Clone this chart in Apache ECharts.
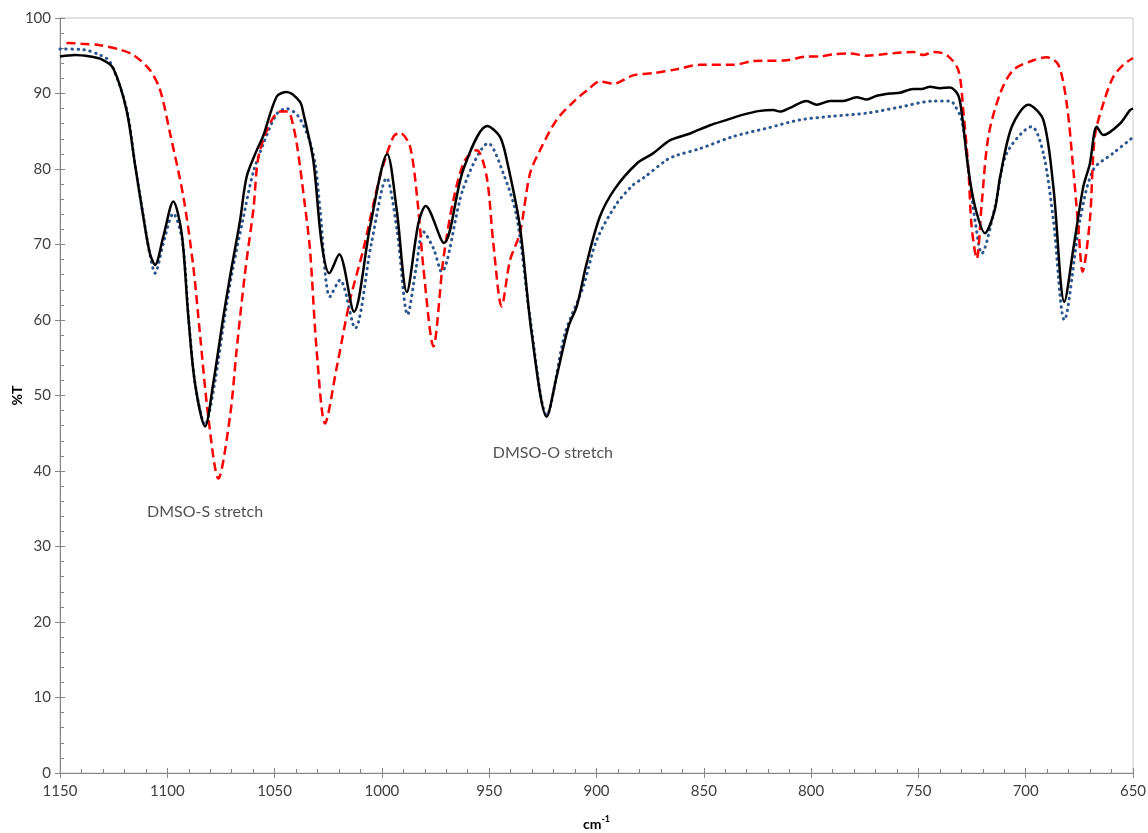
<!DOCTYPE html>
<html>
<head>
<meta charset="utf-8">
<style>
  html, body { margin: 0; padding: 0; background: #ffffff; }
  #chart { width: 1148px; height: 833px; }
</style>
<script src="https://cdn.jsdelivr.net/npm/echarts/dist/echarts.min.js"></script>
</head>
<body>
<div id="chart"></div>
<script>
// IR transmittance spectra, 1150–650 cm-1

// Solid black trace
const solidWavenumber = [1150, 1143, 1136, 1130.4, 1125.3, 1119, 1115, 1111.2, 1108.1, 1105.7, 1101.9, 1097.2, 1093.3, 1090.2, 1087.1, 1082.4, 1078.6, 1073.9, 1070.8, 1066.1, 1063, 1058.3, 1055.4, 1049, 1044.4, 1038.2, 1036.6, 1032, 1028.1, 1024.5, 1019.9, 1013, 1005.5, 997.5, 993.1, 988.4, 983, 979.6, 971.1, 962.1, 950.9, 945, 941.5, 935.7, 930.2, 923.2, 918.6, 913.1, 909.2, 904.6, 898.4, 891.4, 881.3, 873.5, 865.8, 856.4, 847.1, 839.3, 831.6, 823.8, 817.6, 814.5, 809.8, 802.1, 797.4, 791.2, 785, 778.8, 774.1, 769.4, 763.2, 758.6, 752.4, 748.5, 744.6, 740, 735.3, 731.5, 729.8, 726.7, 723.6, 719, 714.5, 711.9, 706.5, 698.8, 691.8, 687.1, 682, 677.5, 673.2, 670.1, 666.9, 663.8, 656.1, 651.4, 650];
const solidT = [94.9, 95.1, 94.9, 94.5, 93.4, 87.8, 80.5, 73.7, 68.8, 67.3, 71, 75.7, 71.5, 60.4, 51.6, 45.9, 51.6, 60.4, 65.7, 73.2, 79, 82.5, 84.3, 89.6, 90.2, 88.9, 87.4, 81.2, 70.2, 66.2, 68.7, 61.1, 72.4, 82.0, 74.6, 63.7, 72.8, 75.1, 70.2, 79.9, 85.7, 84.3, 80.8, 72.4, 58.2, 47.2, 52.5, 59.1, 61.8, 67.5, 73.7, 77.4, 80.7, 82.1, 83.8, 84.7, 85.8, 86.5, 87.2, 87.7, 87.8, 87.6, 88.1, 89.0, 88.5, 89.0, 89.0, 89.5, 89.2, 89.7, 90.0, 90.1, 90.6, 90.6, 90.9, 90.7, 90.8, 89.8, 87.4, 79.9, 75, 71.5, 74.5, 79, 85.6, 88.5, 86.5, 77.6, 62.4, 70, 77.6, 80.7, 85.6, 84.5, 86, 87.8, 88];

// Dashed red trace
const dashedWavenumber = [1147, 1140, 1131.4, 1122, 1115.8, 1108.1, 1103.4, 1098.7, 1092.5, 1087.9, 1084.8, 1080.9, 1076.2, 1070.8, 1067.7, 1063.8, 1059.9, 1056.8, 1047.5, 1044, 1042.8, 1039.7, 1035.8, 1033.5, 1030.4, 1026.5, 1021, 1014.9, 1008.7, 1000.9, 994.6, 991.6, 986.9, 983, 980.7, 976, 971.4, 966.7, 961.3, 955.8, 951.2, 948.1, 944.2, 940.3, 935.7, 931, 926.3, 918.6, 910, 904, 898.4, 892.2, 882.9, 873.5, 862.7, 851.8, 836.3, 826.9, 811.4, 802.1, 795.9, 789.7, 781.9, 774.1, 766.4, 752.4, 747.7, 743, 736.8, 731.4, 729.1, 726.7, 725.2, 722.8, 720.5, 717.4, 711.9, 705.8, 696.4, 690.2, 684.8, 680.9, 677.8, 675.5, 673.5, 670.1, 667.8, 663.8, 659.2, 654.5, 650];
const dashedT = [96.7, 96.6, 96.4, 95.8, 95.1, 93.1, 90.5, 84.7, 76.3, 67.1, 58.2, 47.2, 39.0, 47.2, 56, 66.2, 74.6, 82.5, 87.6, 87.6, 87.4, 83.4, 75, 69.3, 56, 46.3, 53.8, 62.6, 69.3, 79, 84.3, 84.8, 83, 74.6, 67, 56.5, 68, 75.9, 81.2, 82.5, 79, 70.2, 61.8, 67.9, 71.5, 79.4, 82.5, 86.5, 89.1, 90.5, 91.6, 91.3, 92.4, 92.7, 93.2, 93.8, 93.8, 94.3, 94.4, 94.9, 94.9, 95.2, 95.3, 95.0, 95.2, 95.5, 95.1, 95.5, 95.1, 93.1, 87.8, 79.9, 72.4, 68.1, 75.4, 84.3, 90, 93.1, 94.4, 94.8, 93.8, 88.7, 79.9, 72.4, 66.4, 73.2, 84.3, 88.7, 92.2, 93.8, 94.7];

// Dotted blue trace
const dottedWavenumber = [1150, 1139.1, 1131.4, 1126.7, 1119, 1115, 1111, 1108, 1105.7, 1102, 1097.2, 1093, 1090, 1087, 1082.4, 1078, 1073.5, 1070, 1065, 1060, 1055, 1049, 1044.4, 1039, 1034, 1031, 1028.8, 1024.2, 1019.5, 1012.5, 1005, 997.8, 993, 988, 984, 980.7, 976, 972.2, 962, 950.4, 943.4, 937.2, 931, 923.2, 914.7, 906.2, 899.9, 890.6, 882.9, 878.2, 867.3, 862.7, 851.8, 836.3, 820.7, 805.2, 789.7, 774.1, 758.6, 743, 735.3, 733.7, 729.8, 726.7, 723.5, 720.5, 714.3, 708.8, 697.2, 691.8, 687.1, 682, 674.7, 668.5, 659.2, 650];
const dottedT = [95.9, 95.8, 95.1, 94.2, 88, 80.5, 73.5, 68.5, 66.2, 70, 74.1, 70.5, 60, 51.5, 46.1, 51.5, 60, 66, 73, 79.5, 83.5, 87.3, 88.0, 87, 84, 80.5, 74.6, 63.1, 65.3, 58.9, 70, 78.8, 72, 60.7, 67, 71.7, 69.5, 66.4, 77.5, 83.4, 79.4, 73.7, 60.4, 47.4, 58.2, 64.4, 70.6, 75.4, 77.9, 78.8, 81.2, 81.8, 82.7, 84.3, 85.4, 86.5, 87.0, 87.4, 88.2, 89.0, 89.0, 88.7, 86.5, 79.9, 73, 68.8, 75, 82.1, 85.6, 82.1, 73.2, 60, 73.2, 79.9, 82.1, 84.2];

// Band annotations: [wavenumber, %T, text]
const bandLabels = [
  [1082.4, 34.6, 'DMSO-S stretch'],
  [920.3, 42.4, 'DMSO-O stretch']
];

const FONT = 'Lato, "Open Sans", sans-serif';
const pairs = (xs, ys) => xs.map((x, i) => [x, ys[i]]);

const chart = echarts.init(document.getElementById('chart'), null, { renderer: 'canvas' });

const xBase = { type: 'value', min: 650, max: 1150, inverse: true, interval: 50, gridIndex: 0 };
const yBase = { type: 'value', min: 0, max: 100, interval: 10, gridIndex: 0 };

chart.setOption({
  animation: false,
  backgroundColor: '#ffffff',
  grid: {
    left: 60, right: 15, top: 18, bottom: 60,
    containLabel: false,
    outerBoundsMode: 'none',
    show: true, borderColor: '#c6c6c6', borderWidth: 1
  },
  xAxis: [
    Object.assign({}, xBase, {
      name: '{b|cm}{s|-1}',
      nameLocation: 'middle',
      nameGap: 42,
      nameMoveOverlap: false,
      nameTextStyle: {
        rich: {
          b: { fontFamily: FONT, fontWeight: 'bold', fontSize: 14, color: '#000', lineHeight: 16, verticalAlign: 'bottom' },
          s: { fontFamily: FONT, fontWeight: 'bold', fontSize: 9, color: '#000', lineHeight: 16, verticalAlign: 'top' }
        }
      },
      axisLine: { show: true, lineStyle: { color: '#868686', width: 1 } },
      axisTick: { show: true, length: 5, lineStyle: { color: '#868686' } },
      axisLabel: { fontFamily: FONT, fontSize: 15, color: '#404040', margin: 11, formatter: v => String(v) },
      splitLine: { show: false }
    }),
    Object.assign({}, xBase, {
      position: 'bottom',
      axisLine: { show: false },
      axisLabel: { show: false },
      axisTick: { show: true, inside: true, length: 5, lineStyle: { color: '#868686' } },
      minorTick: { show: true, splitNumber: 5, length: 4, lineStyle: { color: '#868686' } },
      splitLine: { show: false }
    })
  ],
  yAxis: [
    Object.assign({}, yBase, {
      name: '%T',
      nameLocation: 'middle',
      nameGap: 36,
      nameMoveOverlap: false,
      nameRotate: 90,
      nameTextStyle: { fontFamily: FONT, fontWeight: 'bold', fontSize: 14, color: '#000' },
      axisLine: { show: true, lineStyle: { color: '#868686', width: 1 } },
      axisTick: { show: true, length: 5, lineStyle: { color: '#868686' } },
      axisLabel: { fontFamily: FONT, fontSize: 15, color: '#404040', margin: 9, formatter: v => String(v) },
      splitLine: { show: false }
    }),
    Object.assign({}, yBase, {
      position: 'left',
      axisLine: { show: false },
      axisLabel: { show: false },
      axisTick: { show: true, inside: true, length: 5, lineStyle: { color: '#868686' } },
      minorTick: { show: true, splitNumber: 5, length: 4, lineStyle: { color: '#868686' } },
      splitLine: { show: false }
    })
  ],
  series: [
    {
      name: 'Spectrum A', type: 'line', xAxisIndex: 0, yAxisIndex: 0,
      data: pairs(dottedWavenumber, dottedT),
      showSymbol: false, smooth: 0.3, z: 2,
      lineStyle: { color: '#2c568f', width: 3, type: [0.5, 5.5], cap: 'round' }
    },
    {
      name: 'Spectrum B', type: 'line', xAxisIndex: 0, yAxisIndex: 0,
      data: pairs(dashedWavenumber, dashedT),
      showSymbol: false, smooth: 0.3, z: 3,
      lineStyle: { color: '#ff0000', width: 2.5, type: [9, 5], cap: 'butt' }
    },
    {
      name: 'Spectrum C', type: 'line', xAxisIndex: 0, yAxisIndex: 0,
      data: pairs(solidWavenumber, solidT),
      showSymbol: false, smooth: 0.3, z: 4,
      lineStyle: { color: '#000000', width: 2.5 }
    },
    {
      name: 'Bands', type: 'scatter', xAxisIndex: 0, yAxisIndex: 0,
      silent: true, symbolSize: 1,
      itemStyle: { color: 'rgba(0,0,0,0)' },
      data: bandLabels.map(b => ({ value: [b[0], b[1]], name: b[2] })),
      label: {
        show: true, position: 'inside', formatter: '{b}',
        fontFamily: FONT, fontSize: 16, color: '#262626'
      },
      z: 5
    }
  ]
});
</script>
</body>
</html>
